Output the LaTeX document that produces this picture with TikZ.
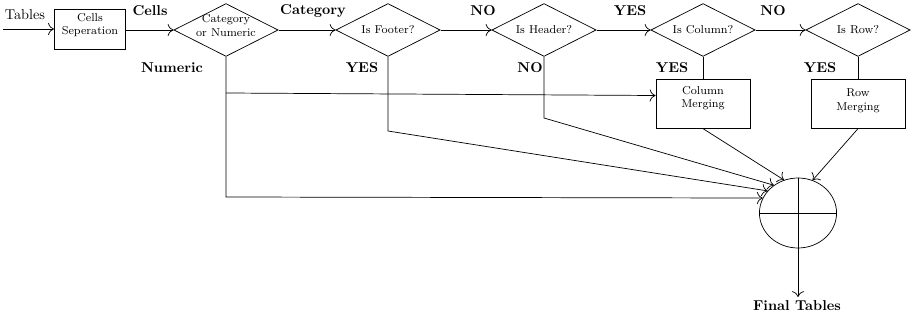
\documentclass[tikz,border=0pt]{standalone}
\usetikzlibrary{shapes.geometric,calc,arrows.meta}
\begin{document}
\begin{tikzpicture}[x=0.7pt,y=-0.7pt,line width=0.5pt,
  procbox/.style={draw,rectangle,inner sep=0pt},
  boxtext/.style={font=\footnotesize,align=center,inner sep=0pt},
  decision/.style={draw,diamond,inner sep=0pt,
    aspect=2,minimum width=73pt,minimum height=37pt},
  merger/.style={draw,ellipse,minimum width=54pt,minimum height=49pt,inner sep=0pt},
  flow/.style={-{To[scale=1.5]}},
  tag/.style={font=\bfseries},
]
\useasboundingbox (0,0) rectangle (912,320);

% input label and first stage
\node (tables) at (25,15) {Tables};
\coordinate (in) at (3,29);
\node[procbox,minimum width=50pt,minimum height=28pt] (sep) at (90,29) {};
\node[boxtext] (septext) at (90,25) {Cells\\Seperation};

% decisions along the main row
\node[decision] (d1) at (226,30) {};
\node[decision] (d2) at (388,30) {};
\node[decision] (d3) at (544,30) {};
\node[decision] (d4) at (703,30) {};
\node[decision] (d5) at (858,30) {};
\node[boxtext] (d1text) at (226,25.5) {Category\\or Numeric};
\node[boxtext] (d2text) at (388,30) {Is Footer?};
\node[boxtext] (d3text) at (544,30) {Is Header?};
\node[boxtext] (d4text) at (703,30) {Is Column?};
\node[boxtext] (d5text) at (858,30) {Is Row?};

% merging steps
\node[procbox,minimum width=66pt,minimum height=34pt] (colm) at (703,104) {};
\node[procbox,minimum width=66pt,minimum height=34pt] (rowm) at (858,104) {};
\node[boxtext] (colmtext) at (703,98) {Column\\Merging};
\node[boxtext] (rowmtext) at (858,101) {Row\\Merging};

% combining node
\node[merger] (sum) at (798,213) {};
\draw (sum.north) -- (sum.south);
\draw (sum.west) -- (sum.east);
\coordinate (out) at (798,297);
\node[tag] (final) at (797,306) {Final Tables};

% branch labels
\node[tag] (lcells) at (150,11) {Cells};
\node[tag] (lcat) at (313,11) {Category};
\node[tag] (lno1) at (483,11) {NO};
\node[tag] (lyes1) at (630,11) {YES};
\node[tag] (lno2) at (773,11) {NO};
\node[tag] (lnum) at (172,68) {Numeric};
\node[tag] (lyes2) at (362,68) {YES};
\node[tag] (lno3) at (530,68) {NO};
\node[tag] (lyes3) at (672,68) {YES};
\node[tag] (lyes4) at (820,68) {YES};

% main row connectors
\draw[flow] (in) -- (sep.west |- in);
\draw[flow] (sep.east |- d1) -- (d1.west);
\draw[flow] (d1.east) -- (d2.west);
\draw[flow] (d2.east) -- (d3.west);
\draw[flow] (d3.east) -- (d4.west);
\draw[flow] (d4.east) -- (d5.west);

% decision outputs going down
\draw (d4.south) -- (colm.north);
\draw (d5.south) -- (rowm.north);
\coordinate (j1) at (226,93);
\coordinate (j1b) at (226,197);
\coordinate (j2) at (388,131);
\coordinate (j3) at (544,118);
\draw[flow] (d1.south) -- (j1b) -- (sum.157);
\draw[flow] (j1) -- ($(colm.west)+(0,-8.5)$);
\draw[flow] (d2.south) -- (j2) -- (sum.144);
\draw[flow] (d3.south) -- (j3) -- (sum.131);
\draw[flow] (colm.south) -- (sum.113);
\draw[flow] (rowm.south) -- (sum.66);
\draw[flow] (sum.south) -- (out);
\end{tikzpicture}
\end{document}
